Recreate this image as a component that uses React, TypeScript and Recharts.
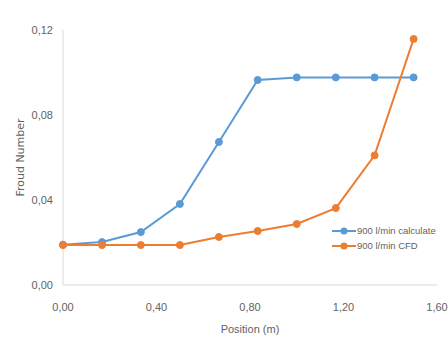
import React from 'react';
import { LineChart, Line, XAxis, YAxis, Legend } from 'recharts';

const positions = [0, 0.167, 0.333, 0.5, 0.667, 0.833, 1.0, 1.167, 1.333, 1.5];
const calculated = [0.019, 0.0202, 0.0249, 0.0381, 0.0673, 0.0965, 0.0977, 0.0977, 0.0977, 0.0977];
const cfd = [0.0188, 0.0188, 0.0188, 0.0188, 0.0226, 0.0254, 0.0287, 0.0362, 0.061, 0.1158];
const xTicks = [0, 0.4, 0.8, 1.2, 1.6];
const yTicks = [0, 0.04, 0.08, 0.12];
const seriesNames = ['900 l/min calculate', '900 l/min CFD'];

const data = positions.map((x, i) => ({ x, calc: calculated[i], cfd: cfd[i] }));

const BLUE = '#5B9BD5';
const ORANGE = '#ED7D31';
const GRAY = '#636363';
const FONT = "'Liberation Sans Narrow', 'Liberation Sans', sans-serif";

const fmt = (v: number) => v.toFixed(2).replace('.', ',');

const LegendContent = () => (
  <svg width={116} height={32}>
    {[BLUE, ORANGE].map((c, i) => (
      <g key={i}>
        <line x1={0} x2={24} y1={6 + i * 15} y2={6 + i * 15} stroke={c} strokeWidth={2} />
        <circle cx={12} cy={6 + i * 15} r={3.5} fill={c} />
        <text x={25} y={6 + i * 15} dy="0.35em" fontSize={9.5} fill={GRAY} fontFamily={FONT}>
          {seriesNames[i]}
        </text>
      </g>
    ))}
  </svg>
);

export default function App() {
  return (
    <div style={{ position: 'absolute', left: 0, top: 0, background: '#fff' }}>
      <LineChart width={448} height={345} data={data} margin={{ top: 30, right: 11, left: 0, bottom: 0 }}>
        <XAxis
          dataKey="x"
          type="number"
          domain={[0, 1.6]}
          ticks={xTicks}
          tickFormatter={fmt}
          tickLine={false}
          axisLine={{ stroke: '#d9d9d9' }}
          tickMargin={12}
          height={60}
          tick={{ fontSize: 11, fill: GRAY, fontFamily: FONT }}
          label={{ value: 'Position (m)', position: 'insideBottom', offset: 12, fontSize: 11, fill: GRAY, fontFamily: FONT }}
        />
        <YAxis
          type="number"
          domain={[0, 0.12]}
          ticks={yTicks}
          tickFormatter={fmt}
          tickLine={false}
          axisLine={{ stroke: '#d9d9d9' }}
          tickMargin={4}
          width={63}
          tick={{ fontSize: 11, fill: GRAY, fontFamily: FONT }}
          label={{ value: 'Froud Number', angle: -90, position: 'insideLeft', offset: 20, fontSize: 11, fill: GRAY, fontFamily: "'DejaVu Sans', sans-serif", style: { textAnchor: 'middle' } }}
        />
        <Legend
          layout="vertical"
          align="center"
          verticalAlign="middle"
          content={<LegendContent />}
          wrapperStyle={{ position: 'absolute', left: 332, top: 225, width: 116 }}
        />
        <Line
          dataKey="calc"
          name={seriesNames[0]}
          stroke={BLUE}
          strokeWidth={2}
          dot={{ r: 3.5, fill: BLUE, stroke: BLUE, strokeWidth: 1 }}
          isAnimationActive={false}
        />
        <Line
          dataKey="cfd"
          name={seriesNames[1]}
          stroke={ORANGE}
          strokeWidth={2}
          dot={{ r: 3.5, fill: ORANGE, stroke: ORANGE, strokeWidth: 1 }}
          isAnimationActive={false}
        />
      </LineChart>
    </div>
  );
}
